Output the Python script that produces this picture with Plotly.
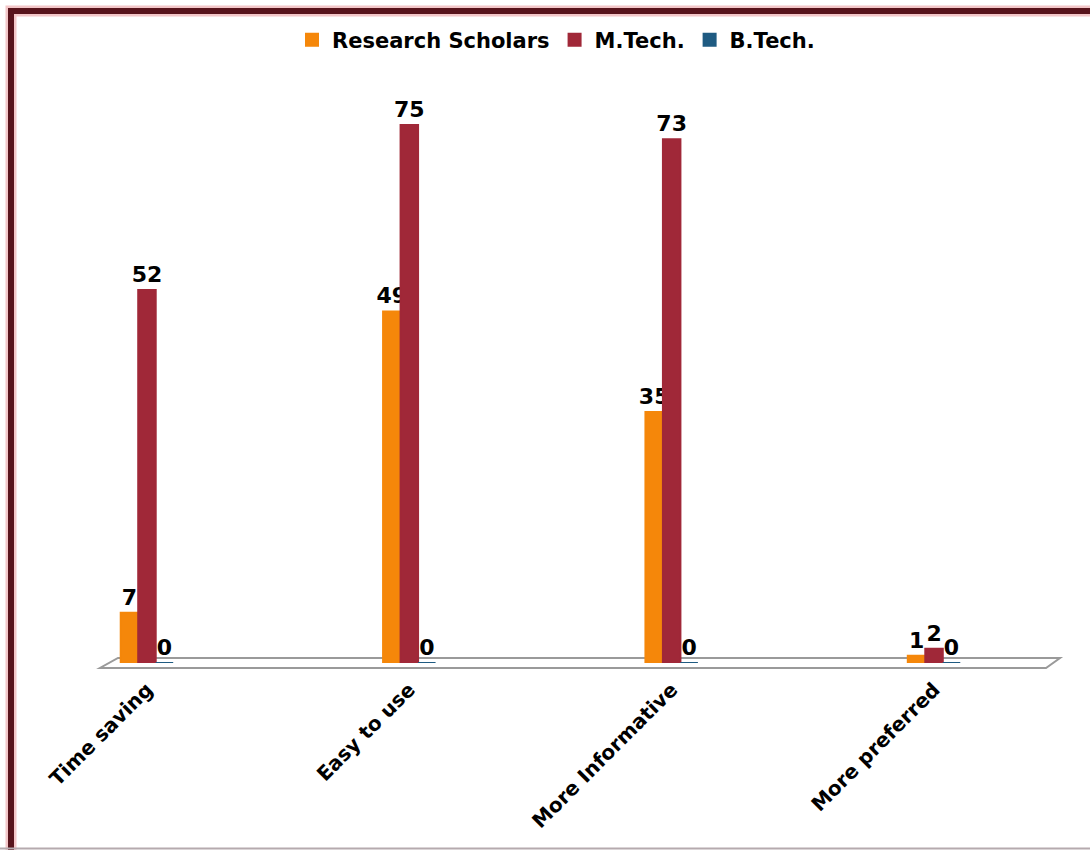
import plotly.graph_objects as go

categories = ["Time saving", "Easy to use", "More Informative", "More preferred"]
research_scholars = [7, 49, 35, 1]
m_tech = [52, 75, 73, 2]
b_tech = [0, 0, 0, 0]

series = [
    ("Research Scholars", research_scholars, "#F5870A"),
    ("M.Tech.", m_tech, "#A02838"),
    ("B.Tech.", b_tech, "#1F5B82"),
]

W, H = 1090, 850
L, R, T, B = 100, 40, 89, 187
PW, PH = W - L - R, H - T - B

def px(x):
    return (x - L) / PW

def py(y):
    return (H - B - y) / PH

fig = go.Figure()
for name, vals, color in series:
    fig.add_trace(go.Bar(
        x=categories, y=vals, name=name,
        marker=dict(color=color, line=dict(color=color, width=2)),
        text=[str(v) for v in vals], textposition="outside",
        constraintext="none",
        textfont=dict(family="DejaVu Sans", size=22, color="black", weight="bold"),
        cliponaxis=False,
    ))

shapes = []
# floor parallelogram
shapes.append(dict(type="path", xref="paper", yref="paper",
                   path=f"M {px(118)},{py(658)} L {px(1060)},{py(658)} L {px(1046)},{py(668)} L {px(100)},{py(668)} Z",
                   line=dict(color="#9A9A9A", width=2), fillcolor="rgba(255,255,255,0)", layer="below"))
# frame glow + border
shapes.append(dict(type="path", xref="paper", yref="paper",
                   path=f"M {px(11)},{py(850)} L {px(11)},{py(11)} L {px(1090)},{py(11)}",
                   line=dict(color="#F3C6C8", width=11), layer="above"))
shapes.append(dict(type="path", xref="paper", yref="paper",
                   path=f"M {px(11)},{py(850)} L {px(11)},{py(11)} L {px(1090)},{py(11)}",
                   line=dict(color="#58141C", width=6), layer="above"))
# bottom thin line
shapes.append(dict(type="line", xref="paper", yref="paper",
                   x0=px(0), x1=px(1090), y0=py(848.5), y1=py(848.5),
                   line=dict(color="#B5AAAE", width=2)))

fig.update_layout(
    width=W, height=H,
    margin=dict(l=L, r=R, t=T, b=B, autoexpand=False),
    paper_bgcolor="white", plot_bgcolor="white",
    barmode="group", bargap=0.8, bargroupgap=0.0,
    showlegend=True,
    legend=dict(orientation="h", x=px(556), xanchor="center", y=py(40), yanchor="middle",
                font=dict(family="DejaVu Sans", size=21, color="black", weight="bold"),
                itemwidth=30, traceorder="normal"),
    xaxis=dict(type="category", range=[-0.179, 3.442], showgrid=False, showline=False,
               zeroline=False, ticks="", tickangle=-45, automargin=False,
               tickfont=dict(family="DejaVu Sans", size=20, color="black", weight="bold"),
               ticklabelstandoff=10),
    yaxis=dict(range=[0, 80], visible=False, showgrid=False, automargin=False),
    shapes=shapes,
    font=dict(family="DejaVu Sans"),
)

fig.write_html("out.html")
